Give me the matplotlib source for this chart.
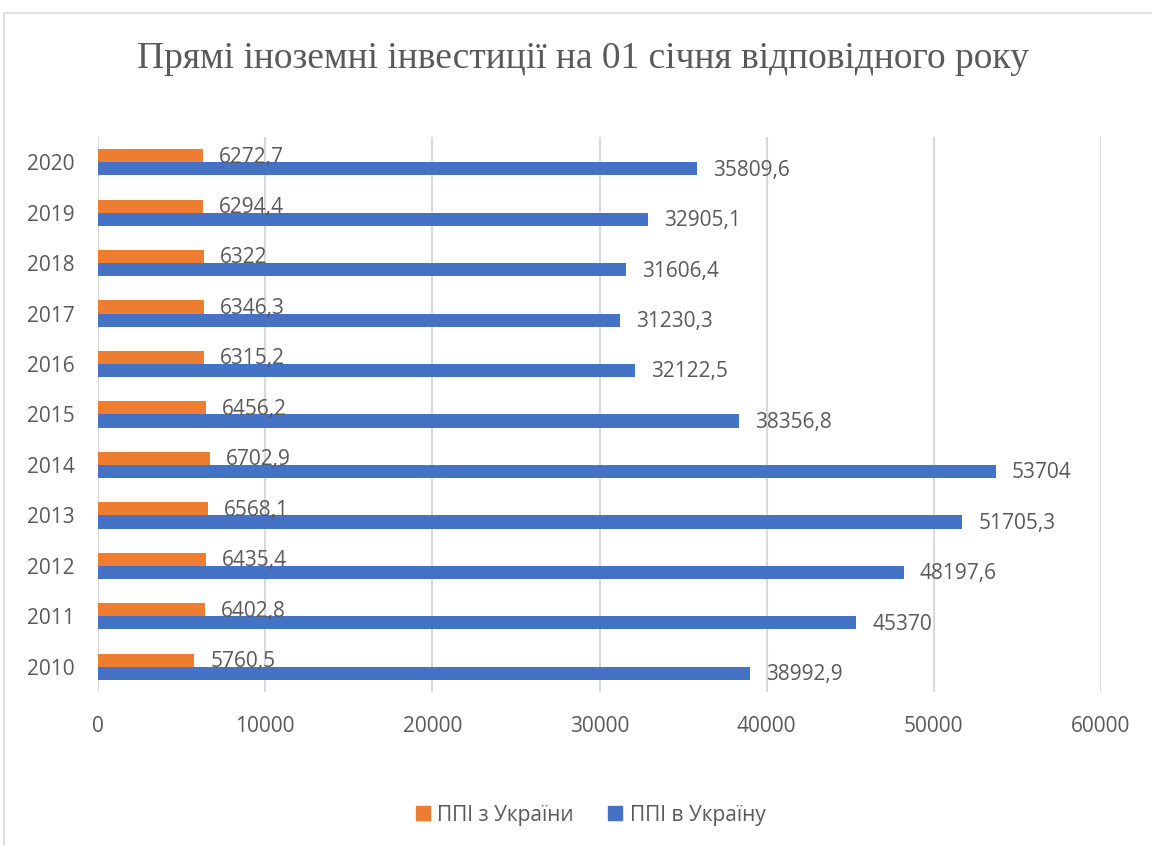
import matplotlib
matplotlib.use("Agg")
import matplotlib.pyplot as plt
from matplotlib.patches import Rectangle
from matplotlib.lines import Line2D
import numpy as np

years = ["2010", "2011", "2012", "2013", "2014", "2015", "2016", "2017", "2018", "2019", "2020"]
fdi_from = [5760.5, 6402.8, 6435.4, 6568.1, 6702.9, 6456.2, 6315.2, 6346.3, 6322, 6294.4, 6272.7]
fdi_into = [38992.9, 45370, 48197.6, 51705.3, 53704, 38356.8, 32122.5, 31230.3, 31606.4, 32905.1, 35809.6]
series_names = ["ППІ з України", "ППІ в Україну"]
title = "Прямі іноземні інвестиції на 01 січня відповідного року"
xticks = [0, 10000, 20000, 30000, 40000, 50000, 60000]

ORANGE = "#ED7D31"
BLUE = "#4472C4"
TXT = "#595959"
GRID = "#D9D9D9"
SANS = ["Open Sans", "DejaVu Sans"]
FS = 15

def fmt(v):
    s = ("%.1f" % v).rstrip("0").rstrip(".")
    return s.replace(".", ",")

fig = plt.figure(figsize=(11.52, 8.46), dpi=100)
fig.patch.set_facecolor("white")

# chart frame
fig.add_artist(Rectangle((4/1152, -0.1), 1.2, (846-13)/846 + 0.1, transform=fig.transFigure,
                         fill=False, edgecolor=GRID, linewidth=1.2))

ax = fig.add_axes([98/1152, (846-692)/846, (1101-98)/1152, (692-137)/846])
y = np.arange(len(years))
h = 0.26
ax.barh(y + h/2, fdi_from, height=h, color=ORANGE, zorder=3)
ax.barh(y - h/2, fdi_into, height=h, color=BLUE, zorder=3)

for yi, v in zip(y, fdi_from):
    ax.annotate(fmt(v), (v, yi + h/2), xytext=(11.5, -1), textcoords="offset points",
                va="center", ha="left", fontsize=FS, color=TXT, family=SANS, zorder=4)
for yi, v in zip(y, fdi_into):
    ax.annotate(fmt(v), (v, yi - h/2), xytext=(11.5, -1), textcoords="offset points",
                va="center", ha="left", fontsize=FS, color=TXT, family=SANS, zorder=4)

ax.set_xlim(0, 60000)
ax.set_ylim(-0.5, len(years) - 0.5)
ax.set_xticks(xticks)
ax.set_xticklabels([str(t) for t in xticks], fontsize=FS, color=TXT, family=SANS)
ax.set_yticks(y)
ax.set_yticklabels(years, fontsize=FS, color=TXT, family=SANS)
ax.tick_params(axis="both", length=0)
ax.tick_params(axis="x", pad=17)
ax.tick_params(axis="y", pad=17)
ax.grid(axis="x", color=GRID, linewidth=1.5, zorder=0)
ax.set_axisbelow(True)
for s in ax.spines.values():
    s.set_visible(False)

fig.text(583/1152, 1 - 59/846, title, ha="center", va="center", fontsize=27,
         color=TXT, family=["Liberation Serif", "DejaVu Serif"])

handles = [Line2D([], [], marker="s", linestyle="none", markersize=10, color=ORANGE),
           Line2D([], [], marker="s", linestyle="none", markersize=10, color=BLUE)]
leg = fig.legend(handles, series_names, loc="center", bbox_to_anchor=(590/1152, 1 - 815/846),
                 ncol=2, frameon=False, handlelength=0.8, handletextpad=0.3, columnspacing=1.6,
                 prop={"family": SANS, "size": FS})
for t in leg.get_texts():
    t.set_color(TXT)

fig.savefig("out.png", dpi=100, facecolor="white")
